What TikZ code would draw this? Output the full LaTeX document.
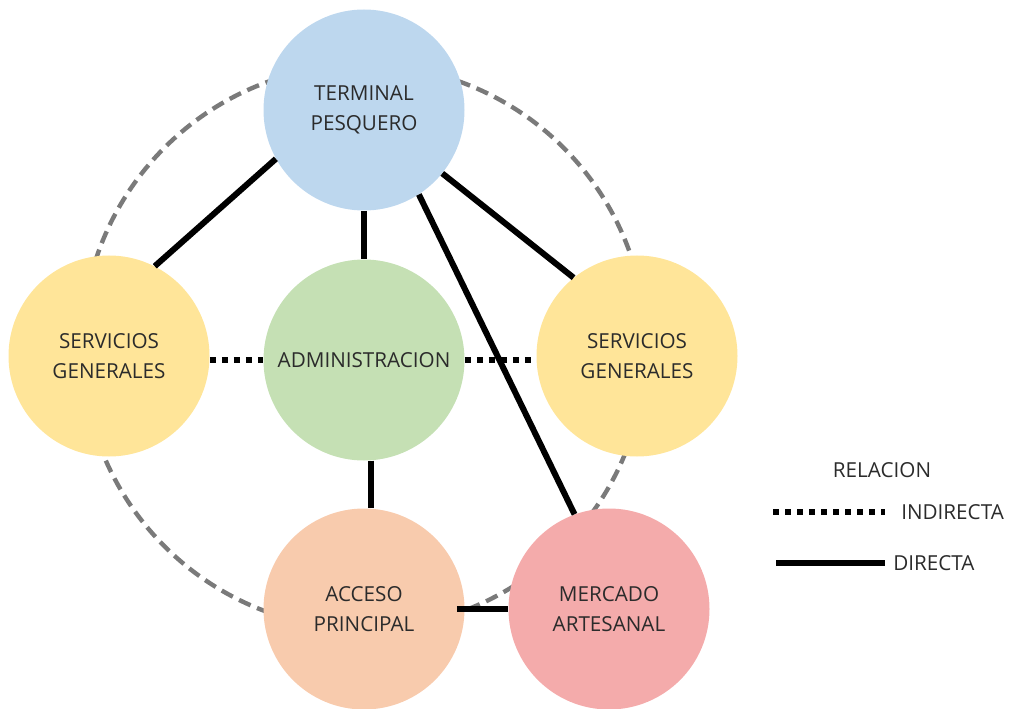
\documentclass[tikz,border=0pt]{standalone}
\usepackage{fontspec}
\setmainfont{Open Sans}
\usetikzlibrary{calc,positioning}
\tikzstyle{zone}=[circle,
        minimum size=150.75pt,
        inner sep=0pt,
        align=center,
        text=TextDark,
        font=\fontsize{15.5}{22}\selectfont, ]
\tikzstyle{legend_text}=[inner sep=0pt,
        text=TextDark,
        font=\fontsize{15.5}{22}\selectfont, ]
\tikzstyle{direct}=[line width=4.5pt]
\tikzstyle{indirect}=[line width=4.5pt, dash pattern=on 4.5pt off 4.5pt]
\tikzstyle{ring}=[draw=RingGray, line width=3.3pt, dash pattern=on 9.5pt off 5.25pt]
\definecolor{TextDark}{HTML}{2B2B2B}
\definecolor{RingGray}{HTML}{7A7A7A}
\definecolor{TermBlue}{HTML}{BDD7EE}
\definecolor{ServYellow}{HTML}{FFE599}
\definecolor{AdminGreen}{HTML}{C5E0B4}
\definecolor{AccPeach}{HTML}{F8CBAD}
\definecolor{MercPink}{HTML}{F4ABAB}

\begin{document}
\begin{tikzpicture}[x=0.75pt, y=-0.75pt]
    \useasboundingbox (0,0) rectangle (1010,709);
    \draw[ring] (364,347) circle (211.5pt);

    \node at (364,110) (term) [zone, fill=TermBlue] {TERMINAL\\PESQUERO};
    \node at (109,356) (servl) [zone, fill=ServYellow] {SERVICIOS\\GENERALES};
    \node at (364,360) (admin) [zone, fill=AdminGreen] {ADMINISTRACION};
    \node at (637,356) (servr) [zone, fill=ServYellow] {SERVICIOS\\GENERALES};
    \node at (364,609) (acceso) [zone, fill=AccPeach] {ACCESO\\PRINCIPAL};
    \node at (609,609) (mercado) [zone, fill=MercPink] {MERCADO\\ARTESANAL};

    \draw[direct] (term.209) -- (servl.63);
    \draw[direct] (term.south) -- (admin.north);
    \draw[direct] (term.-39) -- (servr.129);
    \draw[direct] (term.-57) -- (mercado.110);
    \draw[direct] (admin.-86) -- (acceso.86);
    \draw[direct, shorten <=-6pt] (acceso.east) -- (mercado.west);
    \draw[indirect] (servl.east |- admin.west) -- (admin.west);
    \draw[indirect] (admin.east) -- (admin.east -| servr.west);

    % legend
    \node at (882,470) (relacion) [legend_text] {RELACION};
    \node at (901,512) (indirecta) [legend_text, anchor=west] {INDIRECTA};
    \node at (893,563) (directa) [legend_text, anchor=west] {DIRECTA};
    \coordinate (ind_start) at (773,512);
    \coordinate (dir_start) at (776,563);
    \draw[indirect] (ind_start) -- ($(indirecta.west)+(-16,0)$);
    \draw[direct] (dir_start) -- ($(directa.west)+(-8,0)$);
\end{tikzpicture}
\end{document}
